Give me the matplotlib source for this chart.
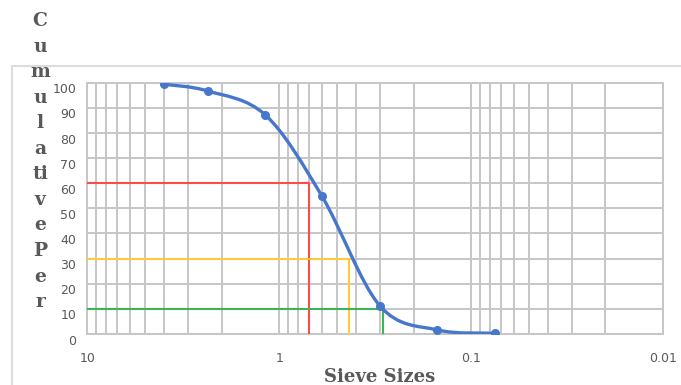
import numpy as np
import matplotlib
matplotlib.use('Agg')
import matplotlib.pyplot as plt
from matplotlib.path import Path
from matplotlib.patches import PathPatch
from matplotlib.lines import Line2D
import matplotlib.transforms as mtransforms

# sieve analysis data
sieve_sizes = [4.0, 2.36, 1.18, 0.6, 0.3, 0.15, 0.075]
percent_passing = [99.4, 96.7, 87.1, 54.9, 11.3, 1.6, 0.3]

# D60, D30, D10 reference lines
d_levels = [60, 30, 10]
d_sizes = [0.70, 0.433, 0.29]
d_colors = ['#ff4b4b', '#ffc83d', '#3cb45a']

y_ticks = [0, 10, 20, 30, 40, 50, 60, 70, 80, 90, 100]
y_labels = ['0', '10', '20', '30', '40', '50', '60', '70', '80', '90', '100']
x_ticks = [10, 1, 0.1, 0.01]
x_labels = ['10', '1', '0.1', '0.01']

ylabel_chars = ['C', 'u', 'm', 'u', 'l', 'a', 'ti', 'v', 'e', 'P', 'e', 'r']

text_color = '#595959'
grid_color = '#c6c6c6'
blue = '#4777cc'

fig = plt.figure(figsize=(6.81, 3.85), dpi=100)
ax = fig.add_axes([0.1282, 0.1325, 0.974 - 0.1282, 0.7852 - 0.1325])

ax.set_xscale('log')
ax.set_xlim(10, 0.01)
ax.set_ylim(0, 100)

# grid
ax.set_xticks(x_ticks)
ax.set_xticks([m * 10.0 ** e for e in (-2, -1, 0) for m in range(2, 10)], minor=True)
ax.set_yticks(y_ticks)
ax.grid(True, which='both', color=grid_color, linewidth=1.4)
ax.set_axisbelow(True)
for s in ax.spines.values():
    s.set_color(grid_color)
    s.set_linewidth(1.4)
ax.tick_params(which='both', length=0)
ax.set_xticklabels(x_labels, fontsize=9, color=text_color)
ax.set_yticklabels(y_labels, fontsize=9, color=text_color)
ax.tick_params(axis='x', pad=13)
ax.tick_params(axis='y', pad=8)
shift = mtransforms.ScaledTranslation(0, -4 / 72, fig.dpi_scale_trans)
for lab in ax.get_yticklabels():
    lab.set_transform(lab.get_transform() + shift)

# D lines
for lvl, size, col in zip(d_levels, d_sizes, d_colors):
    ax.plot([10, size, size], [lvl, lvl, 0], color=col, linewidth=1.5, zorder=3)

# smoothed curve through points (bezier in log-x space)
lx = np.log10(sieve_sizes)
yy = np.array(percent_passing)
pts = np.column_stack([lx, yy])
verts = [pts[0]]
codes = [Path.MOVETO]
n = len(pts)
for i in range(n - 1):
    p0 = pts[i - 1] if i > 0 else pts[i]
    p1 = pts[i]
    p2 = pts[i + 1]
    p3 = pts[i + 2] if i + 2 < n else pts[i + 1]
    c1 = p1 + (p2 - p0) / 6
    c2 = p2 - (p3 - p1) / 6
    verts += [c1, c2, p2]
    codes += [Path.CURVE4] * 3
verts = np.array(verts)
verts[:, 0] = 10 ** verts[:, 0]
ax.add_patch(PathPatch(Path(verts, codes), facecolor='none', edgecolor=blue,
                       linewidth=2.4, zorder=4))
ax.plot(sieve_sizes, percent_passing, 'o', color=blue, markersize=5.5, zorder=5)

# container border
fig.add_artist(Line2D([12 / 681, 1], [1 - 66 / 385, 1 - 66 / 385],
                      transform=fig.transFigure, color='#dcdcdc', linewidth=1.5))
fig.add_artist(Line2D([12 / 681, 12 / 681], [0, 1 - 66 / 385],
                      transform=fig.transFigure, color='#dcdcdc', linewidth=1.5))

# titles
fig.text(40 / 681, 1 - 12 / 385, '\n'.join(ylabel_chars), ha='center', va='top',
         fontsize=13.5, fontweight='bold', family='DejaVu Serif', color=text_color,
         linespacing=1.54)
fig.text(380 / 681, 1 - 377 / 385, 'Sieve Sizes', ha='center', va='center',
         fontsize=13, fontweight='bold', family='DejaVu Serif', color=text_color)

fig.savefig('out.png', dpi=100)
